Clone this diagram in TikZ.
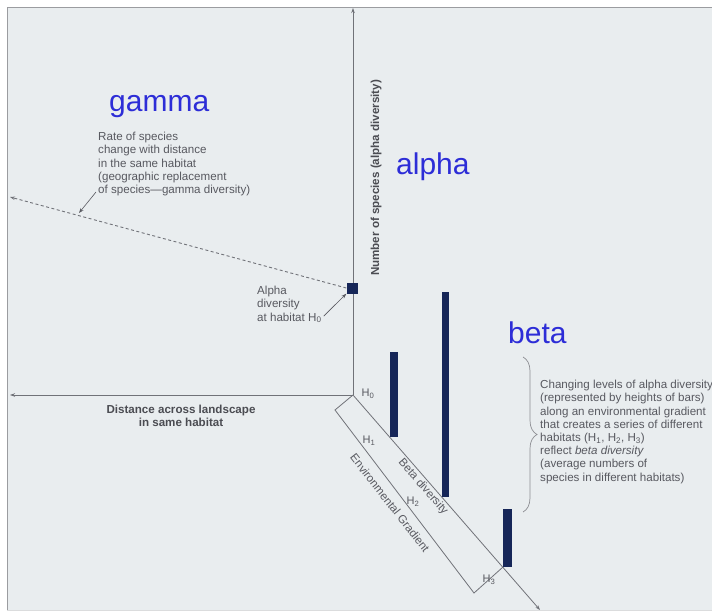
\documentclass[tikz,border=0pt]{standalone}
\usepackage{fontspec}
\setmainfont{Liberation Sans}
\usepackage{tikz}
\usetikzlibrary{arrows.meta,calc,decorations.pathreplacing}
\definecolor{bgpanel}{RGB}{233,237,239}
\definecolor{axisgray}{RGB}{112,114,120}
\definecolor{txtgray}{RGB}{88,89,96}
\definecolor{bardark}{RGB}{22,38,88}
\definecolor{labelblue}{RGB}{45,45,215}

\tikzset{
  note/.style={font=\fontsize{11.6}{13.2}\selectfont, text=txtgray, align=left, inner sep=0pt},
  axislabel/.style={font=\fontsize{11.6}{13.2}\selectfont\bfseries, text=txtgray!85!black, align=center, inner sep=0pt},
  hlabel/.style={font=\fontsize{11}{12}\selectfont, text=txtgray, inner sep=0pt},
  bignote/.style={font=\fontsize{30}{32}\selectfont, text=labelblue, inner sep=0pt},
  bar/.style={fill=bardark, draw=none},
  axisline/.style={draw=axisgray, line width=0.8pt},
  tip/.style={-{Stealth[length=5pt,width=3.5pt]}},
}

\begin{document}
\begin{tikzpicture}[x=1pt,y=-1pt]
\useasboundingbox (0,0) rectangle (712,615);

% Panel
\fill[bgpanel] (7,7) rectangle (712,610);
\draw[axisgray!70, line width=0.8pt] (712,7) -- (7,7) -- (7,610);
\draw[axisgray!25] (7,610) -- (712,610);

% Axes
\coordinate (O) at (353,395);
\coordinate (ytop) at (353,8);
\coordinate (xend) at (10,395);
\coordinate (gend) at (540,610);
\draw[axisline,tip] (O) -- (ytop);
\draw[axisline,tip] (O) -- (xend);
\draw[axisline,tip] (O) -- (gend);

% Environmental gradient strip
\draw[axisline] (O) -- (335,410) -- (474,593) -- (503,567);

% Bars (heights = alpha diversity)
\fill[bar] (390,352) rectangle (398,437);
\fill[bar] (442,292) rectangle (449,497);
\fill[bar] (503,509) rectangle (512,567);
\node[bar, minimum size=11pt, inner sep=0pt] (sq) at (352,288) {};

% Gamma: dashed line
\coordinate (gammaend) at (10,197);
\draw[axisgray, line width=0.9pt, dash pattern=on 3pt off 2.5pt, tip] (sq.west) -- (gammaend);

% Blue labels
\node[bignote, anchor=base west] (gammalbl) at (109,112) {gamma};
\node[bignote, anchor=base west] (alphalbl) at (396,175) {alpha};
\node[bignote, anchor=base west] (betalbl) at (508,343) {beta};

% Notes
\node[note, anchor=north west] (gammanote) at (98,132) {Rate of species\\change with distance\\in the same habitat\\(geographic replacement\\of species—gamma diversity)};
\coordinate (gammahit) at (79,213);
\draw[txtgray, line width=0.6pt, tip] ([xshift=-2pt,yshift=4pt]gammanote.south west) -- (gammahit);

\node[note, anchor=north west] (alphanote) at (257,286) {Alpha\\diversity\\at habitat H\textsubscript{0}};
\draw[txtgray, line width=0.6pt, tip] ([xshift=2pt,yshift=7pt]alphanote.south east) -- (sq.south west);

\node[note, anchor=north west] (betanote) at (540,380) {Changing levels of alpha diversity\\(represented by heights of bars)\\along an environmental gradient\\that creates a series of different\\habitats (H\textsubscript{1}, H\textsubscript{2}, H\textsubscript{3})\\reflect \textit{beta diversity}\\(average numbers of\\species in different habitats)};
\draw[decorate, decoration={brace, amplitude=14pt}, axisgray!80, line width=0.7pt] (523,357) -- (523,512);

% Axis labels
\node[axislabel, anchor=north] (xlabel) at (181,405) {Distance across landscape\\in same habitat};
\node[axislabel, rotate=90] (ylabel) at (376,178) {Number of species (alpha diversity)};

% Habitat labels
\node[hlabel] (h0) at (368,394) {H\textsubscript{0}};
\node[hlabel] (h1) at (369,441) {H\textsubscript{1}};
\node[hlabel] (h2) at (413,502) {H\textsubscript{2}};
\node[hlabel] (h3) at (489,580) {H\textsubscript{3}};
\node[hlabel, rotate=-49, font=\fontsize{11.5}{13}\selectfont] (betadiv) at (423,487) {Beta diversity};
\node[hlabel, rotate=-52, font=\fontsize{11.5}{13}\selectfont] (envgrad) at (390,503) {Environmental Gradient};
\end{tikzpicture}
\end{document}
